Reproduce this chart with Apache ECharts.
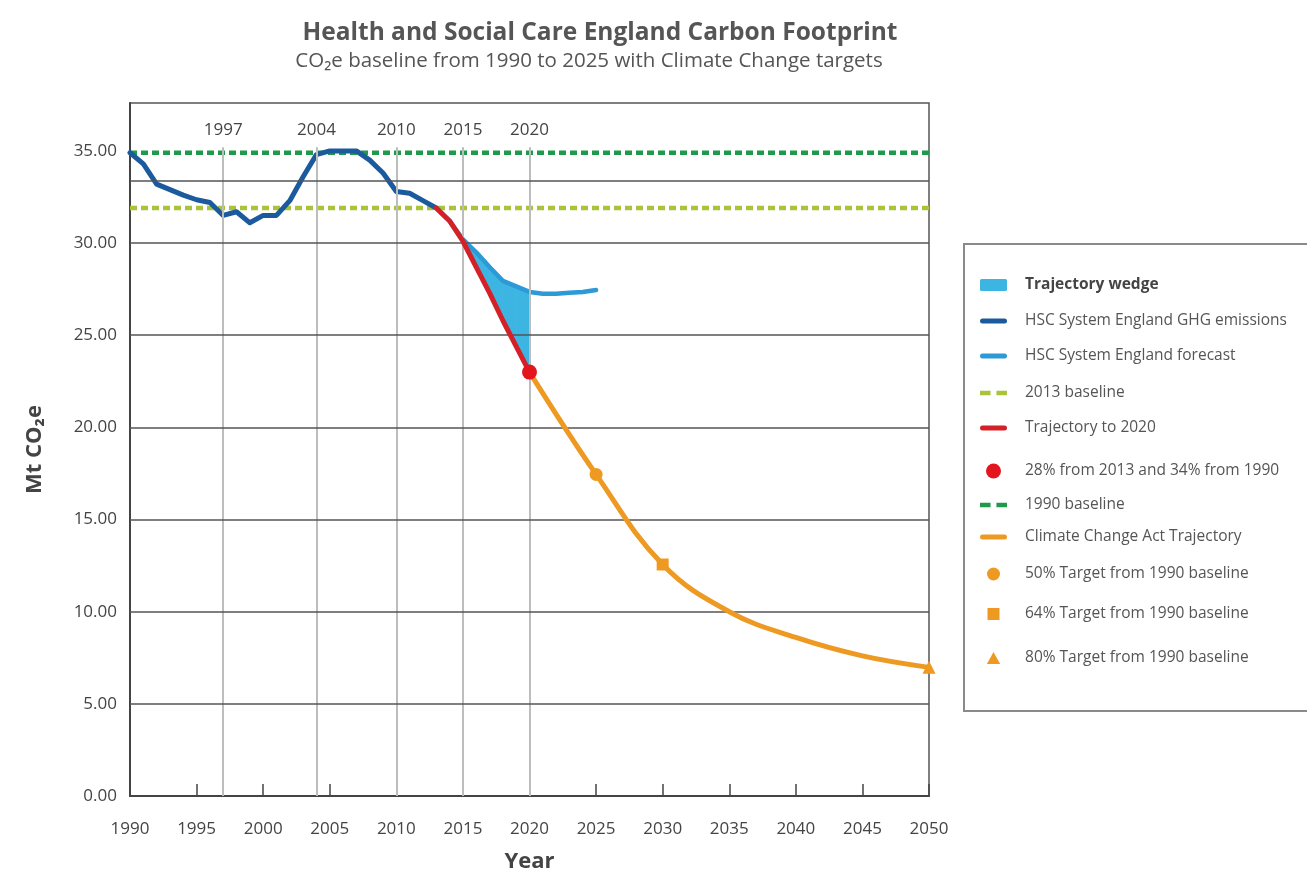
<!DOCTYPE html>
<html>
<head>
<meta charset="utf-8">
<script src="https://cdn.jsdelivr.net/npm/echarts@6/dist/echarts.min.js"></script>
<style>
html,body{margin:0;padding:0;background:#ffffff;}
#chart{width:1307px;height:877px;}
</style>
</head>
<body>
<div id="chart"></div>
<script>
// ---------------- DATA ----------------
const emissionYears  = [1990,1991,1992,1993,1994,1995,1996,1997,1998,1999,2000,2001,2002,2003,2004,2005,2006,2007,2008,2009,2010,2011,2012,2013];
const emissionValues = [34.9,34.3,33.2,32.9,32.6,32.35,32.2,31.5,31.7,31.1,31.5,31.5,32.3,33.6,34.8,35.0,35.0,35.0,34.5,33.8,32.8,32.7,32.3,31.9];

const forecastYears  = [2013,2014,2015,2016,2017,2018,2019,2020,2021,2022,2023,2024,2025];
const forecastValues = [31.9,31.2,30.2,29.5,28.7,27.95,27.65,27.35,27.25,27.25,27.3,27.35,27.45];

const trajectoryYears  = [2013,2014,2015,2016,2017,2018,2019,2020];
const trajectoryValues = [31.9,31.2,30.1,28.7,27.3,25.8,24.4,23.0];

const ccaYears  = [2020,2025,2030,2035,2040,2045,2050];
const ccaValues = [23.0,17.45,12.56,10.0,8.6,7.6,6.98];

const baseline1990 = 34.9;
const baseline2013 = 31.9;
const baselineYears = [1990, 2050];

const target2020 = [2020, 23.0];
const target50 = [2025, 17.45];
const target64 = [2030, 12.56];
const target80 = [2050, 6.98];

const markerYears = [1997, 2004, 2010, 2015, 2020];
const gridValues = [5, 10, 15, 20, 25, 30, 33.4];

const seriesNames = [
  'Trajectory wedge',
  'HSC System England GHG emissions',
  'HSC System England forecast',
  '2013 baseline',
  'Trajectory to 2020',
  '28% from 2013 and 34% from 1990',
  '1990 baseline',
  'Climate Change Act Trajectory',
  '50% Target from 1990 baseline',
  '64% Target from 1990 baseline',
  '80% Target from 1990 baseline'
];

// ---------------- BUILD ----------------
const FONT = '"Open Sans", "Noto Sans", sans-serif';
const zip = (xs, ys) => xs.map((x, i) => [x, ys[i]]);

const fcMap = {};
forecastYears.forEach((y, i) => fcMap[y] = forecastValues[i]);
const wedgeData = trajectoryYears.map((y, i) => [y, trajectoryValues[i], fcMap[y]]);

const COLORS = {
  wedge: '#3db5e3',
  emis: '#1c5a9e',
  forecast: '#2b9ad6',
  b2013: '#a9c43a',
  red: '#d42027',
  redDot: '#e3161d',
  b1990: '#1f9a4c',
  orange: '#ee9a22'
};

const ICON_LINE = 'path://M2.5,0H24.5A2.5,2.5 0 0 1 24.5,5H2.5A2.5,2.5 0 0 1 2.5,0Z';
const ICON_WEDGE = 'path://M1.5,0H25.5A1.5,1.5 0 0 1 27,1.5V10.5A1.5,1.5 0 0 1 25.5,12H1.5A1.5,1.5 0 0 1 0,10.5V1.5A1.5,1.5 0 0 1 1.5,0Z';
const ICON_DASH = 'path://M0,0H9V4H0Z M14,0H23V4H14Z';
const ICON_SQUARE = 'path://M0,0H10V10H0Z';
const ICON_TRI = 'path://M5,0L10,9H0Z';

const legendIcons  = [ICON_WEDGE, ICON_LINE, ICON_LINE, ICON_DASH, ICON_LINE, 'circle', ICON_DASH, ICON_LINE, 'circle', ICON_SQUARE, ICON_TRI];
const legendIconH  = [14, 14, 14, 14, 14, 15, 14, 14, 13, 12, 12];
const legendIconW  = [27, 27, 27, 27, 27, 15, 27, 27, 13, 12, 13.3];
const legendRowY   = [283, 319, 354, 391, 426, 469, 503, 535, 572, 612, 656];

const legends = seriesNames.map((name, i) => ({
  data: [{ name: name, icon: legendIcons[i] }],
  left: 980 + (27 - legendIconW[i]) / 2,
  top: legendRowY[i] - 6,
  padding: 0,
  itemWidth: 27,
  itemHeight: legendIconH[i],
  selectedMode: false,
  textStyle: {
    fontFamily: FONT,
    fontSize: 15.5,
    lineHeight: 16,
    color: i === 0 ? '#444' : '#555',
    fontWeight: i === 0 ? 'bold' : 'normal',
    padding: [0, 0, 0, 13]
  }
}));

const option = {
  backgroundColor: '#ffffff',
  animation: false,
  title: [
    {
      text: 'Health and Social Care England Carbon Footprint',
      left: 595, top: 16, textAlign: 'center',
      textStyle: { fontFamily: FONT, fontSize: 24.5, fontWeight: 'bold', color: '#555' }
    },
    {
      text: 'CO\u2082e baseline from 1990 to 2025 with Climate Change targets',
      left: 584, top: 46, textAlign: 'center',
      textStyle: { fontFamily: FONT, fontSize: 20.5, fontWeight: 'normal', color: '#555' }
    }
  ],
  legend: legends,
  graphic: [{
    type: 'rect',
    shape: { x: 964, y: 244, width: 360, height: 467 },
    style: { fill: 'none', stroke: '#8a8a8a', lineWidth: 2 }
  }],
  grid: {
    left: 130, top: 103, right: 378, bottom: 81,
    show: true, borderColor: '#555', borderWidth: 1.5,
    containLabel: false, outerBoundsMode: 'none'
  },
  xAxis: {
    type: 'value', min: 1990, max: 2050, interval: 5,
    axisLine: { show: true, lineStyle: { color: '#444', width: 2 } },
    axisTick: { show: true, inside: true, length: 12, lineStyle: { color: '#444', width: 1.5 } },
    axisLabel: { fontFamily: FONT, fontSize: 17, color: '#444', margin: 25, formatter: v => String(v) },
    splitLine: { show: false },
    name: 'Year', nameLocation: 'middle', nameGap: 55,
    nameTextStyle: { fontFamily: FONT, fontSize: 22, fontWeight: 'bold', color: '#444' }
  },
  yAxis: {
    type: 'value', min: 0, max: 37.6, interval: 5,
    axisLine: { show: true, lineStyle: { color: '#444', width: 2 } },
    axisTick: { show: false },
    axisLabel: {
      fontFamily: FONT, fontSize: 17, color: '#444', margin: 13,
      formatter: v => (Math.abs(v % 5) < 1e-6 ? v.toFixed(2) : '')
    },
    splitLine: { show: false },
    name: 'Mt CO\u2082e', nameLocation: 'middle', nameGap: 84, nameRotate: 90,
    nameTextStyle: { fontFamily: FONT, fontSize: 22, fontWeight: 'bold', color: '#444' }
  },
  series: [
    {
      name: '_helper', type: 'line', data: [[1990, 0]], symbol: 'none', silent: true,
      lineStyle: { width: 0 }, z: 1,
      markLine: {
        silent: true, symbol: 'none', animation: false,
        data: markerYears.map(y => [
          { coord: [y, 0], lineStyle: { color: '#bdbdbd', width: 2, type: 'solid' } },
          { coord: [y, 35.2], label: { show: true, position: 'end', formatter: String(y), distance: 9,
              fontFamily: FONT, fontSize: 17, color: '#444' } }
        ]).concat(gridValues.map(v => [
          { coord: [1990, v], lineStyle: { color: '#555', width: 1.5, type: 'solid' }, label: { show: false } },
          { coord: [2050, v] }
        ]))
      }
    },
    {
      name: seriesNames[0], type: 'custom', data: wedgeData,
      color: COLORS.wedge, itemStyle: { color: COLORS.wedge },
      encode: { x: 0, y: [1, 2] }, z: 2, silent: true,
      renderItem: function (params, api) {
        const i = params.dataIndexInside;
        if (i >= params.dataInsideLength - 1) return null;
        const x0 = api.value(0, i), r0 = api.value(1, i), f0 = api.value(2, i);
        const x1 = api.value(0, i + 1), r1 = api.value(1, i + 1), f1 = api.value(2, i + 1);
        return {
          type: 'polygon',
          shape: { points: [api.coord([x0, r0]), api.coord([x1, r1]), api.coord([x1, f1]), api.coord([x0, f0])] },
          style: { fill: COLORS.wedge, stroke: COLORS.wedge, lineWidth: 0.8 }
        };
      }
    },
    {
      name: seriesNames[3], type: 'line', data: baselineYears.map(y => [y, baseline2013]), symbol: 'none',
      color: COLORS.b2013, lineStyle: { color: COLORS.b2013, width: 4.5, type: [7, 4] }, z: 3
    },
    {
      name: seriesNames[6], type: 'line', data: baselineYears.map(y => [y, baseline1990]), symbol: 'none',
      color: COLORS.b1990, lineStyle: { color: COLORS.b1990, width: 4.5, type: [7, 4] }, z: 3
    },
    {
      name: seriesNames[1], type: 'line', data: zip(emissionYears, emissionValues), symbol: 'none',
      color: COLORS.emis, lineStyle: { color: COLORS.emis, width: 5, join: 'round', cap: 'round' }, z: 4
    },
    {
      name: seriesNames[2], type: 'line', data: zip(forecastYears, forecastValues), symbol: 'none',
      color: COLORS.forecast, lineStyle: { color: COLORS.forecast, width: 4.5, join: 'round', cap: 'round' }, z: 4
    },
    {
      name: seriesNames[7], type: 'line', data: zip(ccaYears, ccaValues), symbol: 'none', smooth: 0.4,
      color: COLORS.orange, lineStyle: { color: COLORS.orange, width: 5, cap: 'round' }, z: 5
    },
    {
      name: seriesNames[4], type: 'line', data: zip(trajectoryYears, trajectoryValues), symbol: 'none',
      color: COLORS.red, lineStyle: { color: COLORS.red, width: 5, join: 'round', cap: 'round' }, z: 6
    },
    {
      name: seriesNames[5], type: 'scatter', data: [target2020], symbol: 'circle', symbolSize: 15,
      color: COLORS.redDot, itemStyle: { color: COLORS.redDot, opacity: 1 }, z: 7
    },
    {
      name: seriesNames[8], type: 'scatter', data: [target50], symbol: 'circle', symbolSize: 13,
      color: COLORS.orange, itemStyle: { color: COLORS.orange, opacity: 1 }, z: 7
    },
    {
      name: seriesNames[9], type: 'scatter', data: [target64], symbol: 'rect', symbolSize: 12,
      color: COLORS.orange, itemStyle: { color: COLORS.orange, opacity: 1 }, z: 7
    },
    {
      name: seriesNames[10], type: 'scatter', data: [target80], symbol: 'triangle', symbolSize: 13,
      color: COLORS.orange, itemStyle: { color: COLORS.orange, opacity: 1 }, z: 7
    }
  ]
};

const chart = echarts.init(document.getElementById('chart'), null, { renderer: 'canvas' });
chart.setOption(option);
</script>
</body>
</html>
